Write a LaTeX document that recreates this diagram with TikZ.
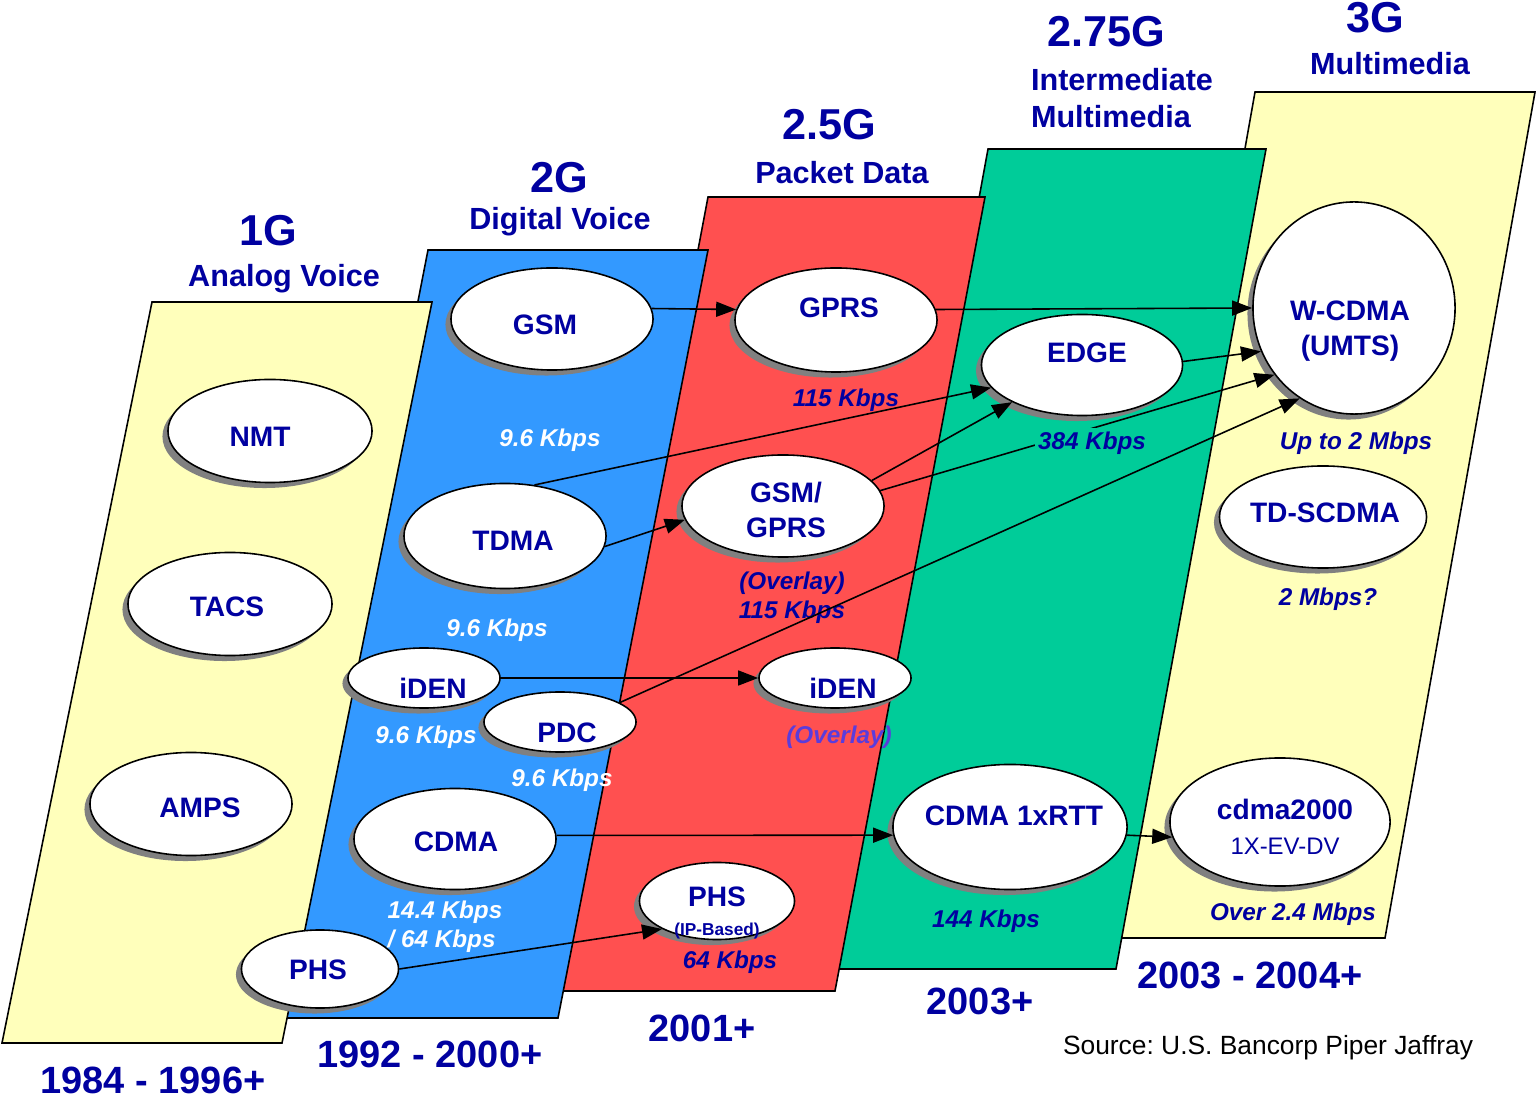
\documentclass[tikz,border=0pt]{standalone}
\usepackage{fontspec}
\setmainfont{Liberation Sans}
\usetikzlibrary{shapes.geometric,shadows,arrows.meta}

\definecolor{txtblue}{RGB}{0,0,160}
\definecolor{ovlblue}{RGB}{90,60,220}
\definecolor{yel}{RGB}{255,255,187}
\definecolor{blu}{RGB}{51,153,255}
\definecolor{rd}{RGB}{255,80,80}
\definecolor{grn}{RGB}{0,204,153}
\definecolor{shade}{RGB}{128,128,128}

\begin{document}
\begin{tikzpicture}
[
	x=0.01cm,y=-0.01cm,
	band/.style={draw,line width=0.45pt},
	el/.style={ellipse,draw,fill=white,line width=0.45pt,inner sep=0pt,drop shadow={shadow xshift=-0.055cm,shadow yshift=-0.055cm,fill=shade,opacity=1}},
	eltxt/.style={align=center,inner sep=0pt,text=txtblue,font=\bfseries\fontsize{8}{10}\selectfont},
	gen/.style={text=txtblue,font=\bfseries\fontsize{12.3}{14}\selectfont},
	sub/.style={text=txtblue,font=\bfseries\fontsize{8.7}{10.5}\selectfont},
	rate/.style={text=txtblue,font=\bfseries\itshape\fontsize{6.9}{8.3}\selectfont,inner sep=1pt},
	wrate/.style={rate,text=white},
	yr/.style={text=txtblue,font=\bfseries\fontsize{10.8}{13}\selectfont},
	arr/.style={line width=0.45pt,-{Triangle[length=2mm,width=1.5mm]}}
]

\useasboundingbox (0,0) rectangle (1537,1098);

\draw[band,fill=yel] (1255,92) -- (1535,92) -- (1385,938) -- (1105,938) -- cycle;
\draw[band,fill=grn] (988,149) -- (1266,149) -- (1116,969) -- (838,969) -- cycle;
\draw[band,fill=rd] (708,197) -- (985,197) -- (835,991) -- (558,991) -- cycle;
\draw[band,fill=blu] (428,250) -- (708,250) -- (558,1018) -- (278,1018) -- cycle;
\draw[band,fill=yel] (152,302) -- (432,302) -- (282,1043) -- (2,1043) -- cycle;

\node[gen] (g1) at (268,231) {1G};
\node[sub] (g1t) at (284,279) {Analog Voice};
\node[gen] (g2) at (559,178) {2G};
\node[sub] (g2t) at (560,222) {Digital Voice};
\node[gen] (g25) at (829,125) {2.5G};
\node[sub] (g25t) at (842,173) {Packet Data};
\node[gen] (g275) at (1106,32) {2.75G};
\node[sub,align=left] (g275t) at (1122,98) {Intermediate\\Multimedia};
\node[gen] (g3) at (1375,18) {3G};
\node[sub] (g3t) at (1390,64) {Multimedia};

\node[el,minimum width=2.04cm,minimum height=1.03cm] (nmt) at (270,431) {};
\node[eltxt] (nmtt) at (260,437) {NMT};
\node[el,minimum width=2.04cm,minimum height=1.03cm] (tacs) at (230,604) {};
\node[eltxt] (tacst) at (227,607) {TACS};
\node[el,minimum width=2.02cm,minimum height=1.03cm] (amps) at (191,804) {};
\node[eltxt] (ampst) at (200,808) {AMPS};

\node[el,minimum width=2.02cm,minimum height=1.02cm] (gsm) at (552,319) {};
\node[eltxt] (gsmt) at (545,325) {GSM};
\node[el,minimum width=2.02cm,minimum height=1.05cm] (tdma) at (505,536) {};
\node[eltxt] (tdmat) at (513,541) {TDMA};
\node[el,minimum width=1.52cm,minimum height=0.6cm] (iden) at (424,678) {};
\node[eltxt] (ident) at (433,688) {iDEN};
\node[el,minimum width=1.52cm,minimum height=0.6cm] (pdc) at (560,722) {};
\node[eltxt] (pdct) at (567,733) {PDC};
\node[el,minimum width=2.02cm,minimum height=1.01cm] (cdma) at (455,839) {};
\node[eltxt] (cdmat) at (456,842) {CDMA};
\node[el,minimum width=1.57cm,minimum height=0.78cm] (phs) at (320,969) {};
\node[eltxt] (phst) at (318,970) {PHS};

\node[el,minimum width=2.02cm,minimum height=1.04cm] (gprs) at (836,320) {};
\node[eltxt] (gprst) at (839,308) {GPRS};
\node[el,minimum width=2.02cm,minimum height=1.02cm] (gsmgprs) at (783,506) {};
\node[eltxt] (gsmgprst) at (786,510) {GSM/\\GPRS};
\node[el,minimum width=1.52cm,minimum height=0.6cm] (idenb) at (835,678) {};
\node[eltxt] (idenbt) at (843,688) {iDEN};
\node[el,minimum width=1.55cm,minimum height=0.77cm] (phsip) at (717,901) {};
\node[eltxt,font=\bfseries\fontsize{8}{8.2}\selectfont] (phsipt) at (717,913) {PHS\\{\fontsize{4.9}{6}\selectfont(IP-Based)}};

\node[el,minimum width=2.01cm,minimum height=1.01cm] (edge) at (1082,365) {};
\node[eltxt] (edget) at (1087,353) {EDGE};
\node[el,minimum width=2.34cm,minimum height=1.25cm] (onex) at (1010,827) {};
\node[eltxt] (onext) at (1014,816) {CDMA 1xRTT};

\node[el,minimum width=2.02cm,minimum height=2.12cm] (wcdma) at (1354,308) {};
\node[eltxt] (wcdmat) at (1350,331) {W-CDMA\\(UMTS)};
\node[el,minimum width=2.07cm,minimum height=1.02cm] (tdscdma) at (1323,517) {};
\node[eltxt] (tdscdmat) at (1325,513) {TD-SCDMA};
\node[el,minimum width=2.2cm,minimum height=1.28cm] (cdmaev) at (1280,822) {};
\node[eltxt] (cdmaevt) at (1285,827) {cdma2000\\{\mdseries\fontsize{6.8}{8}\selectfont 1X-EV-DV}};

\node[wrate] (rgsm) at (550,440) {9.6 Kbps};
\node[wrate] (rtdma) at (497,630) {9.6 Kbps};
\node[wrate] (riden) at (426,737) {9.6 Kbps};
\node[wrate] (rpdc) at (562,780) {9.6 Kbps};
\node[wrate,align=left] (rcdma) at (445,927) {14.4 Kbps\\/ 64 Kbps};
\node[rate] (rgprs) at (846,400) {115 Kbps};
\node[rate,align=center] (rgsmgprs) at (792,598) {(Overlay)\\115 Kbps};
\node[rate,text=ovlblue] (ridenb) at (839,737) {(Overlay)};
\node[rate] (rphsip) at (730,962) {64 Kbps};
\node[rate] (ronex) at (986,921) {144 Kbps};
\node[rate] (rwcdma) at (1356,443) {Up to 2 Mbps};
\node[rate] (rtd) at (1328,599) {2 Mbps?};
\node[rate] (rev) at (1293,914) {Over 2.4 Mbps};

\draw[arr] (gsm.6) -- (gprs.174);
\draw[arr] (gprs.6) -- (wcdma.west);
\draw[arr] (tdma.60) -- (edge.194);
\draw[arr] (tdma.354) -- (gsmgprs.188);
\draw[arr] (gsmgprs.16) -- (edge.208);
\draw[arr] (gsmgprs.9) -- (wcdma.220);
\draw[arr] (edge.2) -- (wcdma.205);
\draw[arr] (pdc.18) -- (wcdma.239);
\draw[arr] (iden.east) -- (idenb.west);
\draw[arr] (cdma.2) -- (onex.184);
\draw[arr] (onex.356) -- (cdmaev.188);
\draw[arr] (phs.east) -- (phsip.207);

\node[rate,fill=grn] (redge) at (1092,443) {384 Kbps};

\node[yr] (y1) at (153,1080) {1984 - 1996+};
\node[yr] (y2) at (430,1054) {1992 - 2000+};
\node[yr] (y3) at (702,1028) {2001+};
\node[yr] (y4) at (980,1001) {2003+};
\node[yr] (y5) at (1250,975) {2003 - 2004+};
\node[font=\fontsize{7.5}{9}\selectfont\frenchspacing] (src) at (1268,1048) {Source: U.S. Bancorp Piper Jaffray};

\end{tikzpicture}
\end{document}
